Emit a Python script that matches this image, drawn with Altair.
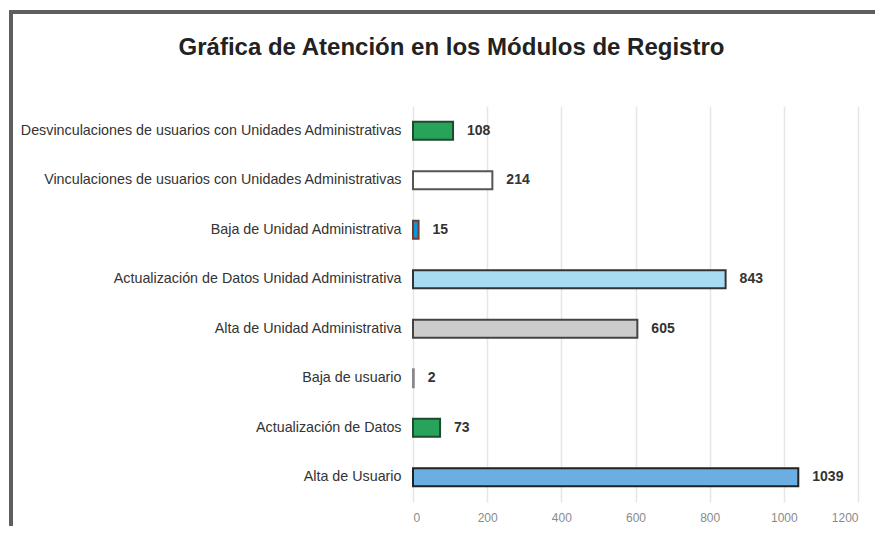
import altair as alt
import pandas as pd

categories = [
    "Desvinculaciones de usuarios con Unidades Administrativas",
    "Vinculaciones de usuarios con Unidades Administrativas",
    "Baja de Unidad Administrativa",
    "Actualización de Datos Unidad Administrativa",
    "Alta de Unidad Administrativa",
    "Baja de usuario",
    "Actualización de Datos",
    "Alta de Usuario",
]
values = [108, 214, 15, 843, 605, 2, 73, 1039]
fills = ["#27a35a", "#ffffff", "#0b95df", "#a8dcf3", "#cccccc", "#bbbbbb", "#27a35a", "#6aaee2"]
strokes = ["#1f4a30", "#555555", "#7a3a2a", "#333333", "#444444", "#888888", "#1f4a30", "#222222"]
x_ticks = [0, 200, 400, 600, 800, 1000, 1200]

df = pd.DataFrame({"cat": categories, "val": values, "fill": fills, "stroke": strokes})

W, H = 445, 396

y = alt.Y("cat:N", sort=categories, title=None,
          axis=alt.Axis(labelFontSize=14.3, labelColor="#333333", labelFont="Liberation Sans",
                        ticks=False, domain=False, labelPadding=12, labelLimit=420))
x = alt.X("val:Q", title=None, scale=alt.Scale(domain=[0, 1200], nice=False),
          axis=alt.Axis(values=x_ticks, format="d", labelFontSize=12, labelColor="#8a8a8a",
                        labelFont="Liberation Sans",
                        ticks=False, domain=False, grid=True, gridColor="#e6e6e6", gridWidth=1.5,
                        labelPadding=10))

bars = alt.Chart(df).mark_bar(size=18, strokeWidth=2).encode(
    x=x, y=y,
    fill=alt.Fill("fill:N", scale=None),
    stroke=alt.Stroke("stroke:N", scale=None),
)

labels = alt.Chart(df).mark_text(align="left", dx=14, fontSize=14, fontWeight="bold",
                                 color="#333333", font="Liberation Sans").encode(
    x="val:Q", y=alt.Y("cat:N", sort=categories), text="val:Q"
)

frame_left = alt.Chart(df).mark_rule(color="#5e5e5e", strokeWidth=3).encode(
    x=alt.value(-402), y=alt.value(-94), y2=alt.value(430)
)
frame_top = alt.Chart(df).mark_rule(color="#5e5e5e", strokeWidth=3).encode(
    x=alt.value(-403.5), x2=alt.value(470), y=alt.value(-94)
)

chart = alt.layer(bars, labels, frame_left, frame_top).properties(
    width=W, height=H,
    autosize=alt.AutoSizeParams(type="none"),
    padding={"left": 405, "top": 98, "right": 17, "bottom": 24},
    title=alt.TitleParams("Gráfica de Atención en los Módulos de Registro", fontSize=24,
                          font="Liberation Sans", fontWeight="bold", color="#222222",
                          anchor="middle", dx=-184, offset=0, dy=49),
).configure(background="#ffffff").configure_view(stroke=None)

chart.save("out.html", embed_options={"renderer": "svg", "actions": False})
